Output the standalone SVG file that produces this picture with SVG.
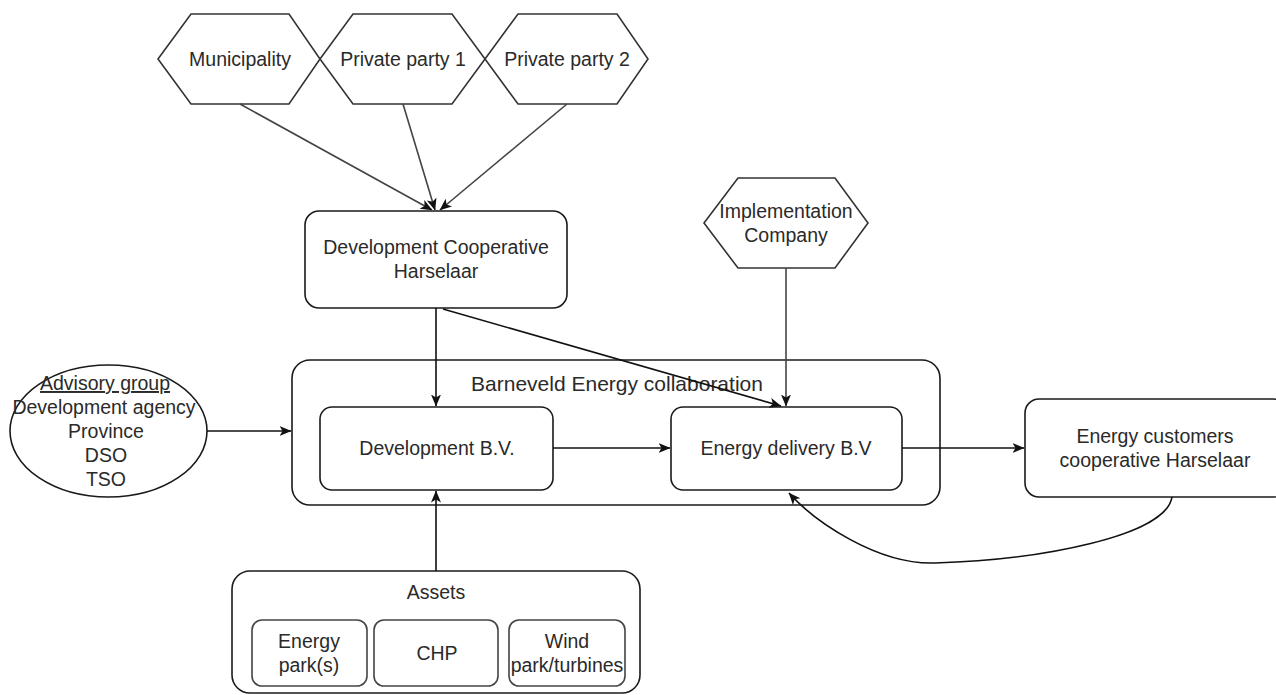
<svg xmlns="http://www.w3.org/2000/svg" width="1276" height="695" viewBox="0 0 1276 695">
  <style>
    .lbl { font-family: "Liberation Sans", Arial, sans-serif; font-size: 19.5px; fill: #2a2a2a; text-anchor: middle; }
    .big { font-size: 21px; }
    .shape { fill: #fff; stroke: #1a1a1a; stroke-width: 1.6; }
    .hex { fill: #fff; stroke: #333; stroke-width: 1.6; }
    .inner { fill: #fff; stroke: #444; stroke-width: 1.6; }
    .edge { fill: none; stroke: #111; stroke-width: 1.6; marker-end: url(#arrow); }
    .edge-soft { fill: none; stroke: #444; stroke-width: 1.6; marker-end: url(#arrow); }
  </style>
  <defs>
    <marker id="arrow" viewBox="0 0 12 12" refX="11.5" refY="6" markerWidth="12" markerHeight="12" markerUnits="userSpaceOnUse" orient="auto">
      <path d="M0,1 L12,6 L0,11 L3,6 Z" fill="#111"/>
    </marker>
  </defs>
  <rect width="1276" height="695" fill="#fff"/>

  <!-- containers -->
  <g id="barneveld-collaboration">
    <rect class="shape" x="292" y="360" width="648" height="145" rx="18" ry="18"/>
    <text class="lbl big" x="617" y="391">Barneveld Energy collaboration</text>
  </g>
  <g id="assets">
    <rect class="shape" x="232" y="571" width="408" height="122" rx="18" ry="18"/>
    <text class="lbl" x="436" y="599">Assets</text>
  </g>

  <!-- parties -->
  <g id="municipality">
    <polygon class="hex" points="158,59 191,14 289,14 320,59 289,104 191,104"/>
    <text class="lbl" x="240" y="66">Municipality</text>
  </g>
  <g id="private-party-1">
    <polygon class="hex" points="320,59 353,14 452,14 485,59 452,104 353,104"/>
    <text class="lbl" x="403" y="66">Private party 1</text>
  </g>
  <g id="private-party-2">
    <polygon class="hex" points="485,59 518,14 617,14 648,59 617,104 518,104"/>
    <text class="lbl" x="567" y="66">Private party 2</text>
  </g>
  <g id="implementation-company">
    <polygon class="hex" points="704,223 738,178 835,178 868,223 835,268 738,268"/>
    <text class="lbl" x="786" y="218">Implementation</text>
    <text class="lbl" x="786" y="242">Company</text>
  </g>

  <g id="development-cooperative">
    <rect class="shape" x="305" y="211" width="262" height="97" rx="14" ry="14"/>
    <text class="lbl" x="436" y="254">Development Cooperative</text>
    <text class="lbl" x="436" y="278">Harselaar</text>
  </g>

  <g id="advisory-group">
    <ellipse class="shape" cx="108.5" cy="431" rx="98.5" ry="66"/>
    <text class="lbl" x="105" y="390" text-decoration="underline">Advisory group</text>
    <text class="lbl" x="104" y="414">Development agency</text>
    <text class="lbl" x="106" y="438">Province</text>
    <text class="lbl" x="106" y="462">DSO</text>
    <text class="lbl" x="106" y="486">TSO</text>
  </g>

  <g id="development-bv">
    <rect class="shape" x="320" y="407" width="233" height="83" rx="12" ry="12"/>
    <text class="lbl" x="437" y="455">Development B.V.</text>
  </g>
  <g id="energy-delivery-bv">
    <rect class="shape" x="671" y="407" width="231" height="83" rx="12" ry="12"/>
    <text class="lbl" x="786" y="455">Energy delivery B.V</text>
  </g>

  <g id="energy-customers">
    <rect class="shape" x="1025" y="399" width="262" height="98" rx="14" ry="14"/>
    <text class="lbl" x="1155" y="443">Energy customers</text>
    <text class="lbl" x="1155" y="467">cooperative Harselaar</text>
  </g>

  <g id="energy-parks">
    <rect class="inner" x="252" y="620" width="115" height="66" rx="10" ry="10"/>
    <text class="lbl" x="309" y="648">Energy</text>
    <text class="lbl" x="309" y="672">park(s)</text>
  </g>
  <g id="chp">
    <rect class="inner" x="374" y="620" width="124" height="66" rx="10" ry="10"/>
    <text class="lbl" x="437" y="660">CHP</text>
  </g>
  <g id="wind-park">
    <rect class="inner" x="509" y="620" width="116" height="66" rx="10" ry="10"/>
    <text class="lbl" x="567" y="648">Wind</text>
    <text class="lbl" x="567" y="672">park/turbines</text>
  </g>

  <!-- connectors -->
  <g id="connectors">
    <path class="edge-soft" d="M240,104 L432,210"/>
    <path class="edge-soft" d="M403,104 L435,210"/>
    <path class="edge-soft" d="M567,104 L440,210"/>
    <path class="edge" d="M436,308 L436,406"/>
    <path class="edge" d="M443,309 L781,406"/>
    <path class="edge-soft" d="M786,268 L786,406"/>
    <path class="edge" d="M207,431 L291,431"/>
    <path class="edge" d="M553,448 L670,448"/>
    <path class="edge" d="M902,448 L1024,448"/>
    <path class="edge" d="M436,571 L436,491"/>
    <path class="edge" d="M1172,497 C1166,536 1040,560 935,563 C878,565 815,522 789,493"/>
  </g>
</svg>
